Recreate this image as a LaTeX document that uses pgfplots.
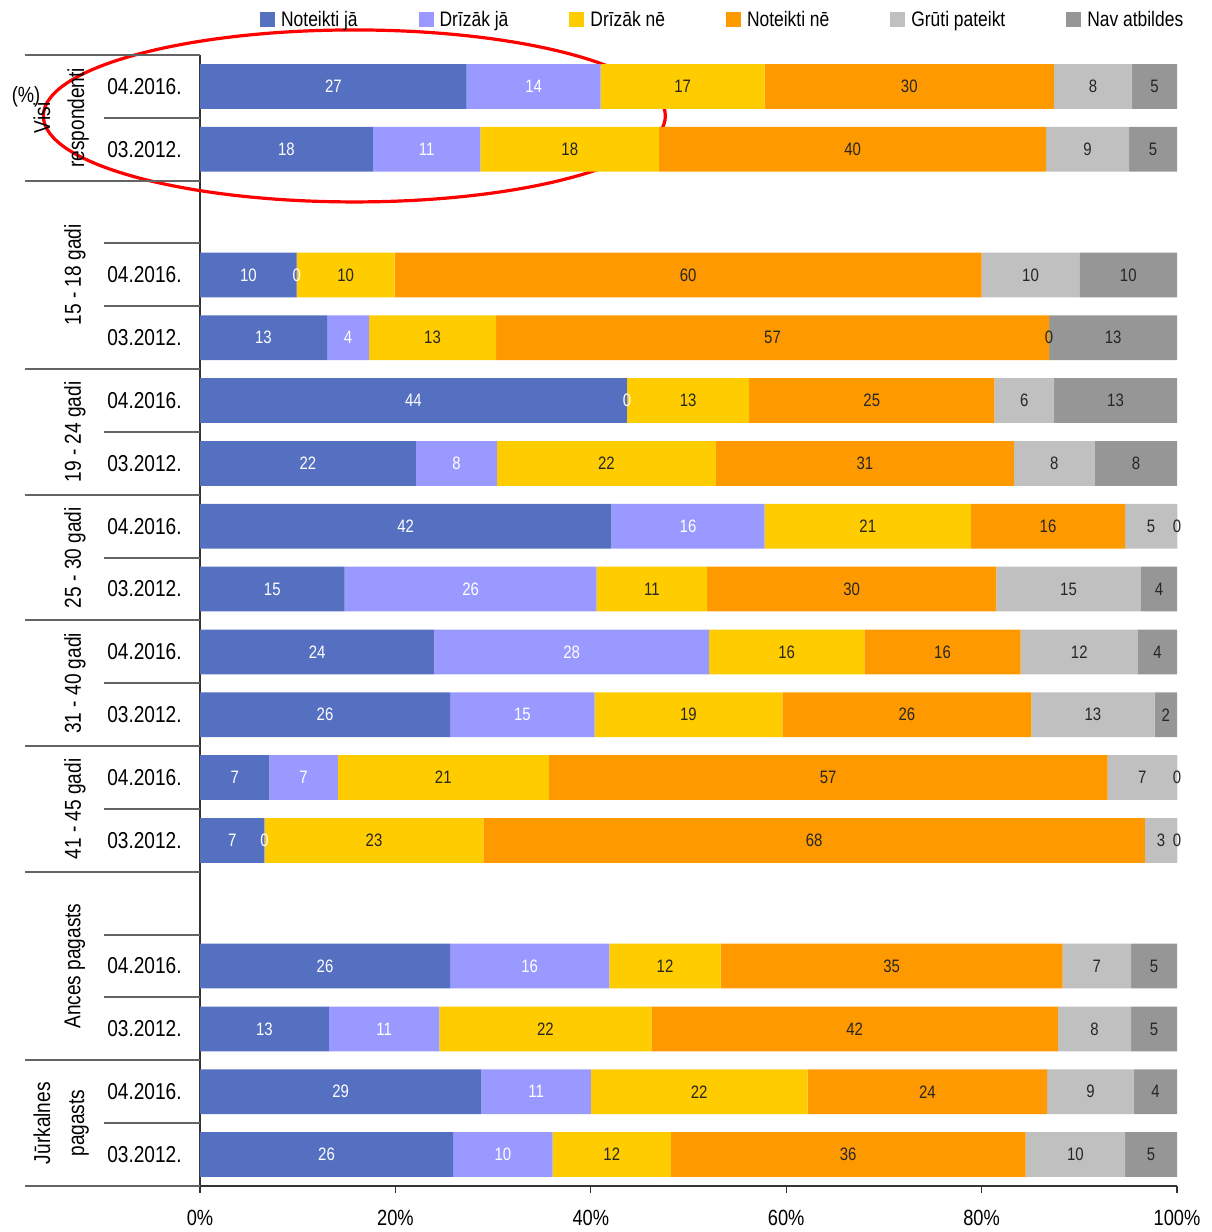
\documentclass[border=0pt]{standalone}
\usepackage{fontspec}
\setmainfont{Liberation Sans}[FakeStretch=0.83]
\usepackage{pgfplots}
\usepackage{pgfplotstable}
\pgfplotsset{compat=1.18}

\makeatletter
\newcommand\restartstack{\pgfplots@stacked@isfirstplottrue}
\makeatother

\definecolor{cA}{RGB}{85,112,193}
\definecolor{cB}{RGB}{153,153,255}
\definecolor{cC}{RGB}{255,204,0}
\definecolor{cD}{RGB}{255,153,0}
\definecolor{cE}{RGB}{192,192,192}
\definecolor{cF}{RGB}{150,150,150}
\definecolor{sepgray}{RGB}{100,100,100}

% y = 17 - row slot; w = segment width (% of bar), l = printed value
\pgfplotstableread{
y  w1   l1 w2   l2 w3   l3 w4   l4 w5   l5 w6   l6
17 27.3 27 13.7 14 16.8 17 29.6 30 8.0  8  4.6  5
16 17.7 18 11.0 11 18.3 18 39.6 40 8.5  9  4.9  5
14 9.9  10 0.01 0  10.0 10 60.1 60 10.0 10 10.0 10
13 13.0 13 4.3  4  13.0 13 56.6 57 0.01 0  13.1 13
12 43.7 44 0.01 0  12.5 13 25.1 25 6.1  6  12.6 13
11 22.1 22 8.3  8  22.4 22 30.5 31 8.3  8  8.4  8
10 42.1 42 15.7 16 21.1 21 15.8 16 5.3  5  0.01 0
9  14.8 15 25.8 26 11.3 11 29.6 30 14.8 15 3.7  4
8  24.0 24 28.1 28 15.9 16 16.0 16 12.0 12 4.0  4
7  25.6 26 14.8 15 19.2 19 25.5 26 12.6 13 2.3  2
6  7.1  7  7.0  7  21.6 21 57.2 57 7.1  7  0.01 0
5  6.6  7  0.01 0  22.4 23 67.7 68 3.3  3  0.01 0
3  25.6 26 16.3 16 11.4 12 35.0 35 7.0  7  4.7  5
2  13.2 13 11.3 11 21.7 22 41.6 42 7.5  8  4.7  5
1  28.8 29 11.2 11 22.2 22 24.5 24 8.9  9  4.4  4
0  25.9 26 10.2 10 12.1 12 36.3 36 10.2 10 5.3  5
}\data

\tikzset{
  sep/.style={sepgray, line width=1pt},
  grp/.style={rotate=90, font=\fontsize{11.5}{17}\selectfont, align=center},
}

\begin{document}
\begin{tikzpicture}
\path[use as bounding box] (-100pt,-23pt) rectangle (505.5pt,593pt);
\begin{axis}[
    at={(0,0)}, anchor=south west,
    scale only axis, width=488.5pt, height=565.5pt,
    xbar stacked, bar width=22.35pt,
    xmin=0, xmax=100, ymin=-0.5, ymax=17.5,
    axis x line*=bottom, axis y line*=left,
    axis line style={black!80, line width=0.6pt},
    xtick={0,20,...,100},
    xticklabels={0\%,20\%,40\%,60\%,80\%,100\%},
    xtick align=outside, major tick length=3.5pt,
    xtick style={black!80, line width=0.6pt},
    xticklabel style={font=\fontsize{11}{12}\selectfont, inner sep=0pt, anchor=north, yshift=-8.5pt},
    ytick={0,1,2,3,5,6,7,8,9,10,11,12,13,14,16,17},
    yticklabels={03.2012.,04.2016.,03.2012.,04.2016.,03.2012.,04.2016.,03.2012.,04.2016.,03.2012.,04.2016.,03.2012.,04.2016.,03.2012.,04.2016.,03.2012.,04.2016.},
    ytick style={draw=none},
    yticklabel style={font=\fontsize{11.5}{13}\selectfont, inner sep=0pt, anchor=east, xshift=-9pt},
    point meta=explicit symbolic,
    nodes near coords style={font=\fontsize{9}{10}\selectfont},
    clip=false,
    legend columns=6,
    legend style={at={(0.535,1.031)}, anchor=center, draw=none, fill=none,
        font=\fontsize{10.5}{12}\selectfont, nodes={inner sep=1pt},
        /tikz/every odd column/.append style={column sep=2pt},
        /tikz/every even column/.append style={column sep=29.5pt}},
    legend image code/.code={\fill[#1] (0pt,-3.75pt) rectangle (7.5pt,3.75pt);},
]
% bars
\addplot[fill=cA, draw=none] table[x=w1, y=y] {\data};
\addplot[fill=cB, draw=none] table[x=w2, y=y] {\data};
\addplot[fill=cC, draw=none] table[x=w3, y=y] {\data};
\addplot[fill=cD, draw=none] table[x=w4, y=y] {\data};
\addplot[fill=cE, draw=none] table[x=w5, y=y] {\data};
\addplot[fill=cF, draw=none] table[x=w6, y=y] {\data};
\legend{Noteikti jā, Drīzāk jā, Drīzāk nē, Noteikti nē, Grūti pateikt, Nav atbildes}

% value labels, drawn above all bars
\restartstack
\addplot[forget plot, draw=none, fill=none, nodes near coords, nodes near coords style={text=white}] table[x=w1, y=y, meta=l1] {\data};
\addplot[forget plot, draw=none, fill=none, nodes near coords, nodes near coords style={text=white}] table[x=w2, y=y, meta=l2] {\data};
\addplot[forget plot, draw=none, fill=none, nodes near coords, nodes near coords style={text=black!85}] table[x=w3, y=y, meta=l3] {\data};
\addplot[forget plot, draw=none, fill=none, nodes near coords, nodes near coords style={text=black!85}] table[x=w4, y=y, meta=l4] {\data};
\addplot[forget plot, draw=none, fill=none, nodes near coords, nodes near coords style={text=black!85}] table[x=w5, y=y, meta=l5] {\data};
\addplot[forget plot, draw=none, fill=none, nodes near coords, nodes near coords style={text=black!85}] table[x=w6, y=y, meta=l6] {\data};

% category separators
\draw[sep] (axis cs:-17.9,17.5) -- (axis cs:0,17.5);
\draw[sep] (axis cs:-17.9,15.5) -- (axis cs:0,15.5);
\draw[sep] (axis cs:-17.9,12.5) -- (axis cs:0,12.5);
\draw[sep] (axis cs:-17.9,10.5) -- (axis cs:0,10.5);
\draw[sep] (axis cs:-17.9,8.5) -- (axis cs:0,8.5);
\draw[sep] (axis cs:-17.9,6.5) -- (axis cs:0,6.5);
\draw[sep] (axis cs:-17.9,4.5) -- (axis cs:0,4.5);
\draw[sep] (axis cs:-17.9,1.5) -- (axis cs:0,1.5);
\draw[sep] (axis cs:-17.9,-0.5) -- (axis cs:0,-0.5);
\draw[sep] (axis cs:-9.8,16.5) -- (axis cs:0,16.5);
\draw[sep] (axis cs:-9.8,14.5) -- (axis cs:0,14.5);
\draw[sep] (axis cs:-9.8,13.5) -- (axis cs:0,13.5);
\draw[sep] (axis cs:-9.8,11.5) -- (axis cs:0,11.5);
\draw[sep] (axis cs:-9.8,9.5) -- (axis cs:0,9.5);
\draw[sep] (axis cs:-9.8,7.5) -- (axis cs:0,7.5);
\draw[sep] (axis cs:-9.8,5.5) -- (axis cs:0,5.5);
\draw[sep] (axis cs:-9.8,3.5) -- (axis cs:0,3.5);
\draw[sep] (axis cs:-9.8,2.5) -- (axis cs:0,2.5);
\draw[sep] (axis cs:-9.8,0.5) -- (axis cs:0,0.5);

\node[grp] at (axis cs:-14.2,16.5) {Visi\\respondenti};
\node[grp] at (axis cs:-12.8,14) {15 - 18 gadi};
\node[grp] at (axis cs:-12.8,11.5) {19 - 24 gadi};
\node[grp] at (axis cs:-12.8,9.5) {25 - 30 gadi};
\node[grp] at (axis cs:-12.8,7.5) {31 - 40 gadi};
\node[grp] at (axis cs:-12.8,5.5) {41 - 45 gadi};
\node[grp] at (axis cs:-12.8,3) {Ances pagasts};
\node[grp] at (axis cs:-14.2,0.5) {Jūrkalnes\\pagasts};
\node[font=\fontsize{11}{13}\selectfont] at (axis cs:-17.8,16.83) {(\%)};
\draw[red, line width=1.6pt] (axis cs:15.8,16.53) ellipse [x radius=155.5pt, y radius=43pt];
\end{axis}
\end{tikzpicture}
\end{document}
